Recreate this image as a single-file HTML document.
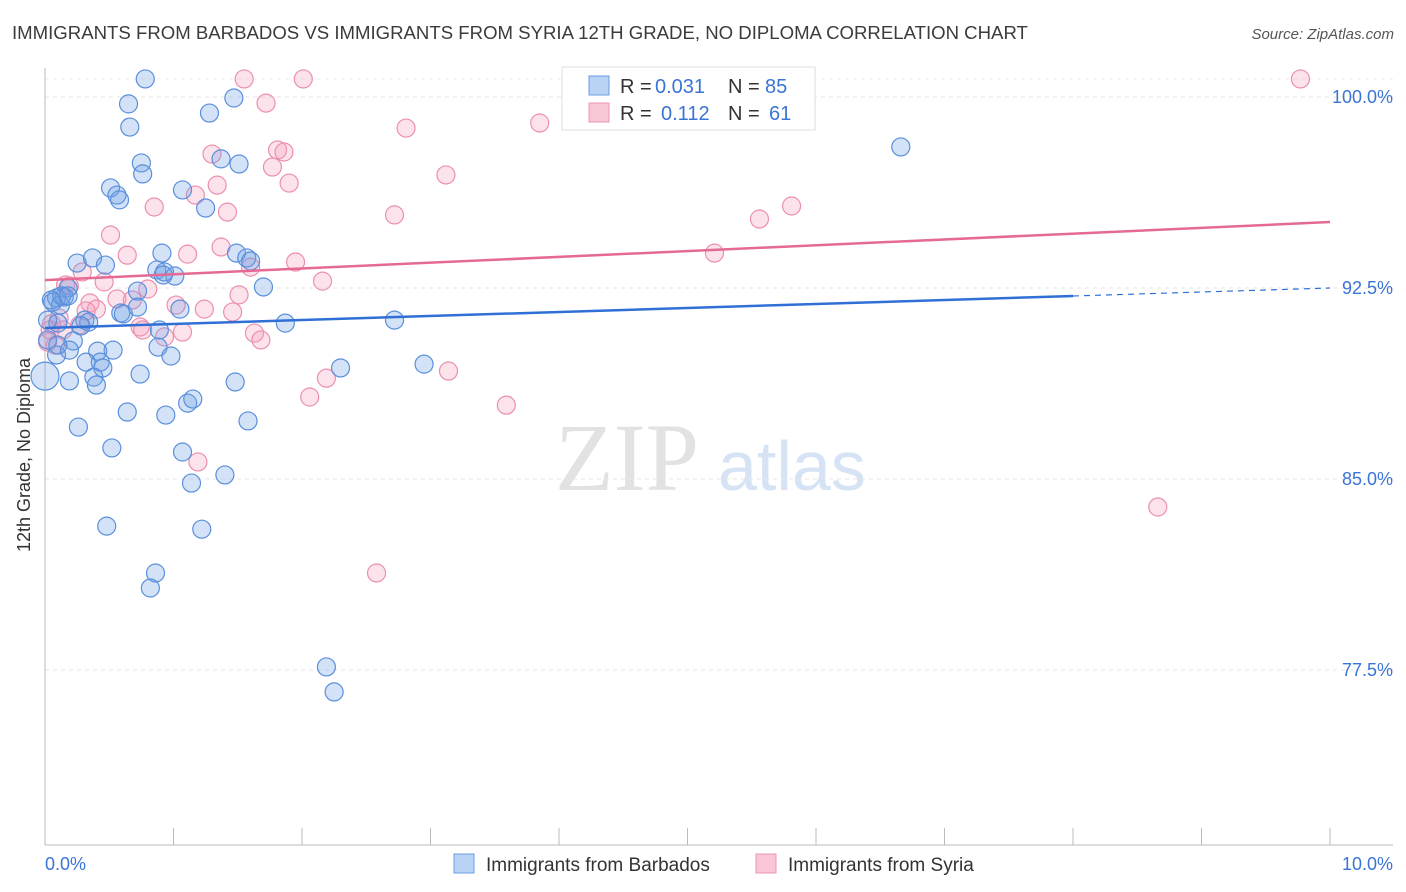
<!DOCTYPE html>
<html><head><meta charset="utf-8"><style>
body{margin:0;background:#fff;font-family:"Liberation Sans",sans-serif;}
svg{display:block}
</style></head><body>
<svg id="chart" width="1406" height="892">
<text x="12" y="39" font-size="18.6" fill="#3b3b3b">IMMIGRANTS FROM BARBADOS VS IMMIGRANTS FROM SYRIA 12TH GRADE, NO DIPLOMA CORRELATION CHART</text>
<text x="1394" y="39" font-size="15" fill="#555" text-anchor="end" font-style="italic">Source: ZipAtlas.com</text>
<text x="30" y="455" font-size="18" fill="#333" text-anchor="middle" transform="rotate(-90 30 455)">12th Grade, No Diploma</text>
<g><text x="555" y="490" font-size="96" fill="#e2e2e2" font-family="Liberation Serif,serif">ZIP</text><text x="718" y="490" font-size="70" fill="#d5e3f5">atlas</text></g>
<g id="grid"></g><g id="axes"></g><g id="pts"></g><g id="trends"></g>
<g>
<rect x="562" y="67" width="253" height="63" fill="#fff" stroke="#ddd"/>
<rect x="589" y="76" width="20" height="19" fill="#b9d3f5" stroke="#6a9be0"/>
<rect x="589" y="103" width="20" height="19" fill="#f9c6d6" stroke="#ec95b1"/>
<text x="620" y="93" font-size="20" fill="#333">R =</text>
<text x="655" y="93" font-size="20" fill="#3a74d6">0.031</text>
<text x="728" y="93" font-size="20" fill="#333">N =</text>
<text x="765" y="93" font-size="20" fill="#3a74d6">85</text>
<text x="620" y="120" font-size="20" fill="#333">R =</text>
<text x="661" y="120" font-size="20" fill="#3a74d6">0.112</text>
<text x="728" y="120" font-size="20" fill="#333">N =</text>
<text x="769" y="120" font-size="20" fill="#3a74d6">61</text>
</g>
<g>
<rect x="454" y="854" width="20" height="19" fill="#b9d3f5" stroke="#6a9be0"/>
<text x="486" y="871" font-size="19" fill="#333">Immigrants from Barbados</text>
<rect x="756" y="854" width="20" height="19" fill="#f9c6d6" stroke="#ec95b1"/>
<text x="788" y="871" font-size="19" fill="#333">Immigrants from Syria</text>
</g>
</svg>
<script>
const yTicks=[100,92.5,85,77.5];
const yTickLabels=["100.0%","92.5%","85.0%","77.5%"];
const xTickLabels=["0.0%","10.0%"];
const blueX=[0.78,0.65,1.47,1.28,0.66,0.75,0.76,1.37,1.51,0.51,0.56,0.58,1.07,1.25,6.66,0.91,1.49,1.57,1.60,0.25,0.37,0.47,0.87,0.93,1.01,1.70,0.18,0.09,0.15,0.06,0.12,0.72,0.92,1.05,0.59,0.61,0.72,0.31,0.34,0.28,1.87,2.72,0.10,0.02,0.22,0.09,0.19,0.53,0.41,0.89,0.88,0.98,0.43,0.45,0.32,2.95,2.30,0.38,0.40,0.19,0.74,1.48,0.0,0.64,0.94,1.11,1.15,1.58,0.26,0.52,1.07,1.40,1.14,0.48,1.22,0.86,0.82,2.19,2.25,0.05,0.13,0.18,0.02,0.10];
const blueY=[100.71,99.73,99.96,99.37,98.82,97.41,96.98,97.57,97.37,96.43,96.15,95.96,96.35,95.64,98.04,93.87,93.87,93.68,93.56,93.48,93.68,93.40,93.21,93.13,92.97,92.54,92.50,92.11,92.15,91.95,91.83,92.38,93.01,91.67,91.52,91.48,91.75,91.24,91.16,91.01,91.12,91.24,91.12,90.46,90.42,89.87,90.06,90.06,90.02,90.85,90.18,89.83,89.59,89.36,89.59,89.51,89.36,89.00,88.69,88.85,89.12,88.81,89.04,87.63,87.51,87.98,88.14,87.28,87.04,86.22,86.06,85.16,84.84,83.15,83.03,81.31,80.72,77.62,76.64,92.03,92.19,92.19,91.24,90.26];
const pinkX=[1.55,2.01,9.77,1.72,2.81,3.85,1.30,1.81,1.86,1.77,3.12,1.90,1.34,1.17,0.85,1.42,2.72,5.56,5.81,0.51,1.37,0.64,1.11,5.21,1.60,1.95,0.29,0.46,0.19,2.16,0.35,0.40,0.56,0.68,0.80,1.02,1.24,1.51,1.46,0.11,0.14,0.27,0.74,0.76,1.07,0.93,1.63,1.68,0.05,0.08,2.19,2.06,3.14,3.59,1.19,2.58,8.66,0.32,0.16,0.02,0.04];
const pinkY=[100.71,100.71,100.71,99.76,98.78,98.98,97.76,97.92,97.84,97.25,96.94,96.62,96.54,96.15,95.68,95.48,95.37,95.21,95.72,94.58,94.11,93.79,93.83,93.87,93.32,93.52,93.13,92.74,92.58,92.77,91.91,91.67,92.07,92.03,92.46,91.83,91.67,92.23,91.56,91.32,90.85,91.05,90.97,90.85,90.77,90.58,90.73,90.46,91.09,90.26,88.96,88.22,89.24,87.90,85.67,81.31,83.90,91.60,92.62,90.38,90.85];
const blueTrend=[90.93,92.50];
const pinkTrend=[92.81,95.09];
const NS="http://www.w3.org/2000/svg";
const sx=v=>45+v*128.5;
const sy=v=>97+(100-v)*25.467;
function mk(t,a,p){const e=document.createElementNS(NS,t);for(const k in a)e.setAttribute(k,a[k]);document.getElementById(p).appendChild(e);return e;}
yTicks.forEach((t,i)=>{
 const l=mk('line',{x1:45,x2:1393,y1:sy(t),y2:sy(t),stroke:'#e6e6e6','stroke-dasharray':'4,4'},'grid');
 
 
 const tx=mk('text',{x:1393,y:sy(t)+6,'font-size':18,fill:'#3a74d6','text-anchor':'end'},'axes');
 tx.textContent=yTickLabels[i];
 
 
});
const topGrid=mk('line',{x1:45,x2:1393,y1:79,y2:79,stroke:'#eee','stroke-dasharray':'4,4'},'grid');


const ya=mk('line',{x1:45,x2:45,y1:68,y2:845,stroke:'#bbb'},'axes');


const xa=mk('line',{x1:45,x2:1393,y1:845,y2:845,stroke:'#bbb'},'axes');


for(let i=0;i<=10;i++){const tk=mk('line',{x1:sx(i),x2:sx(i),y1:828,y2:845,stroke:'#bbb'},'axes');
 
 }
[[0,'start',45],[10,'end',1393]].forEach((d,i)=>{const t=mk('text',{x:d[2],y:870,'font-size':18,fill:'#3a74d6','text-anchor':d[1]},'axes');t.textContent=xTickLabels[i];
 
 });
function dots(X,Y,fill,stroke,name){X.forEach((x,i)=>{const c=mk('circle',{cx:sx(x),cy:sy(Y[i]),r:(x===0&&name==='barbados-point')?14:9,fill:fill,stroke:stroke,'stroke-width':1.2},'pts');
 
 });}
dots(pinkX,pinkY,'rgba(244,160,188,0.3)','#ec8fae','syria-point');
dots(blueX,blueY,'rgba(110,160,230,0.3)','#5a8fdc','barbados-point');
const bt=v=>blueTrend[0]+(blueTrend[1]-blueTrend[0])*v/10;
const pt=v=>pinkTrend[0]+(pinkTrend[1]-pinkTrend[0])*v/10;
const b1=mk('line',{x1:sx(0),y1:sy(bt(0)),x2:sx(8),y2:sy(bt(8)),stroke:'#2f6fd6','stroke-width':2.5},'trends');


const b2=mk('line',{x1:sx(8),y1:sy(bt(8)),x2:sx(10),y2:sy(bt(10)),stroke:'#2f6fd6','stroke-width':1.2,'stroke-dasharray':'6,5'},'trends');


const p1=mk('line',{x1:sx(0),y1:sy(pt(0)),x2:sx(10),y2:sy(pt(10)),stroke:'#e46a94','stroke-width':2.5},'trends');


</script>
</body></html>
